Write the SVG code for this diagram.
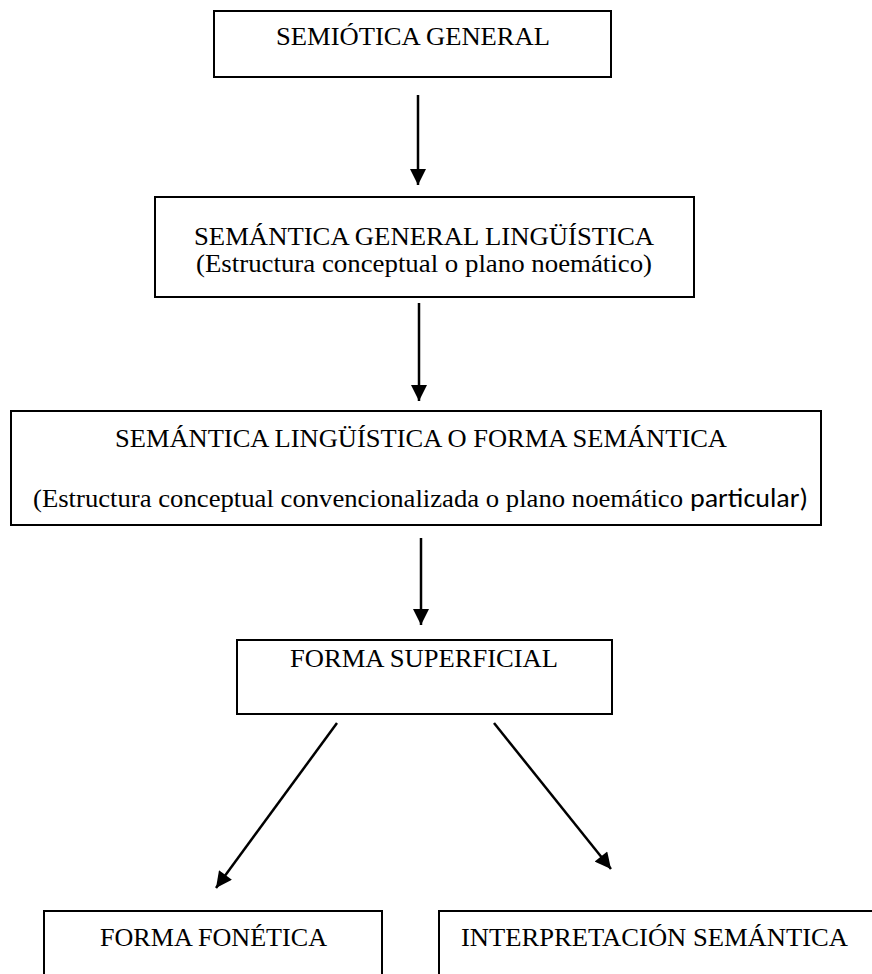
<svg xmlns="http://www.w3.org/2000/svg" width="872" height="974" viewBox="0 0 872 974">
<style>
.box{fill:#fff;stroke:#000;stroke-width:2}
.t{font-family:"Liberation Serif","Times New Roman",serif;font-size:26px;fill:#000}
.s{font-family:"Carlito","Liberation Sans",Arial,sans-serif;font-size:26px;fill:#000}
.c{stroke:#000;stroke-width:2.5;fill:none;marker-end:url(#ah)}
</style>
<defs>
<marker id="ah" viewBox="0 0 10 10" refX="10" refY="5" markerUnits="userSpaceOnUse" markerWidth="17" markerHeight="16" orient="auto">
<path d="M0,0 L10,5 L0,10 z" fill="#000"/>
</marker>
</defs>
<rect width="872" height="974" fill="#fff"/>
<g id="n1"><rect class="box" x="214" y="11" width="397" height="66"/><text class="t" x="276" y="45" textLength="274" lengthAdjust="spacingAndGlyphs">SEMIÓTICA GENERAL</text></g>
<g id="n2"><rect class="box" x="155" y="197" width="539" height="100"/><text class="t" x="194" y="245" textLength="460" lengthAdjust="spacingAndGlyphs">SEMÁNTICA GENERAL LINGÜÍSTICA</text><text class="t" x="196" y="272" textLength="456" lengthAdjust="spacingAndGlyphs">(Estructura conceptual o plano noemático)</text></g>
<g id="n3"><rect class="box" x="11" y="411" width="810" height="114"/><text class="t" x="115" y="447" textLength="612" lengthAdjust="spacingAndGlyphs">SEMÁNTICA LINGÜÍSTICA O FORMA SEMÁNTICA</text><text class="t" x="33" y="507" textLength="650" lengthAdjust="spacingAndGlyphs">(Estructura conceptual convencionalizada o plano noemático</text><text class="s" x="690" y="507" textLength="118" lengthAdjust="spacingAndGlyphs">particular)</text></g>
<g id="n4"><rect class="box" x="237" y="640" width="375" height="74"/><text class="t" x="290" y="667" textLength="268" lengthAdjust="spacingAndGlyphs">FORMA SUPERFICIAL</text></g>
<g id="n5"><rect class="box" x="44" y="911" width="338" height="80"/><text class="t" x="100" y="946" textLength="227" lengthAdjust="spacingAndGlyphs">FORMA FONÉTICA</text></g>
<g id="n6"><rect class="box" x="439" y="911" width="450" height="80"/><text class="t" x="461" y="946" textLength="387" lengthAdjust="spacingAndGlyphs">INTERPRETACIÓN SEMÁNTICA</text></g>
<g id="connectors">
<line class="c" x1="418" y1="95" x2="418" y2="185"/>
<line class="c" x1="419" y1="303" x2="419" y2="401"/>
<line class="c" x1="421" y1="538" x2="421" y2="625"/>
<line class="c" x1="337" y1="723" x2="216" y2="888"/>
<line class="c" x1="494" y1="723" x2="611" y2="869"/>
</g>
</svg>
